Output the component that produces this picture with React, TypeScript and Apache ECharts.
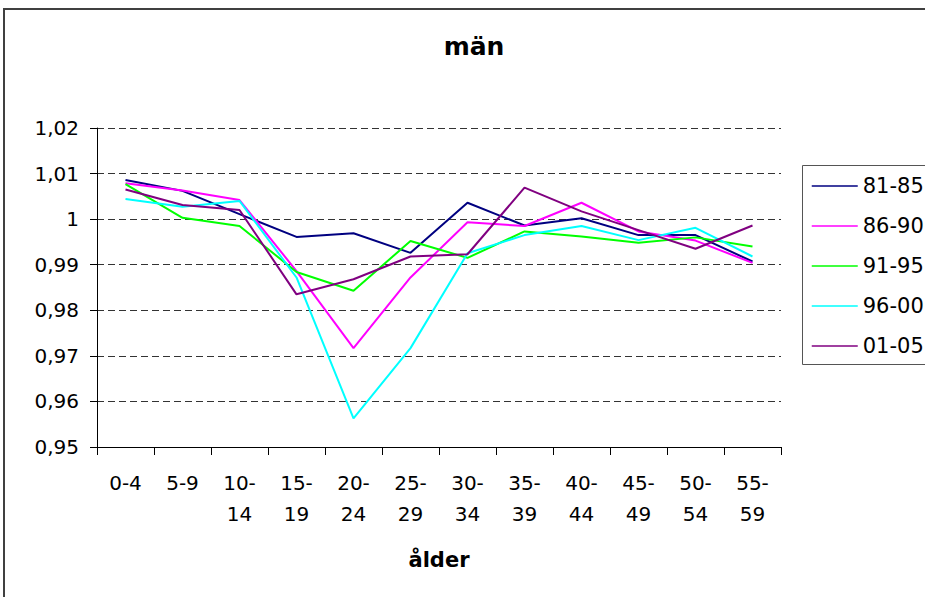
import React, { useEffect, useRef } from "react";
import * as echarts from "echarts";

const categories = ["0-4", "5-9", "10-14", "15-19", "20-24", "25-29", "30-34", "35-39", "40-44", "45-49", "50-54", "55-59"];
const seriesNames = ["81-85", "86-90", "91-95", "96-00", "01-05"];
const s8185 = [1.0086, 1.0062, 1.0011, 0.9961, 0.9969, 0.9926, 1.0036, 0.9986, 1.0002, 0.9965, 0.9965, 0.9907];
const s8690 = [1.0079, 1.0063, 1.0042, 0.9886, 0.9717, 0.9872, 0.9993, 0.9985, 1.0036, 0.9973, 0.9953, 0.9904];
const s9195 = [1.0077, 1.0003, 0.9985, 0.9884, 0.9843, 0.9952, 0.9915, 0.9973, 0.9962, 0.9948, 0.996, 0.994];
const s9600 = [1.0044, 1.0027, 1.004, 0.9872, 0.9563, 0.9717, 0.9925, 0.9965, 0.9985, 0.9954, 0.9981, 0.9918];
const s0105 = [1.0065, 1.0031, 1.002, 0.9835, 0.9868, 0.9918, 0.9923, 1.0069, 1.0017, 0.9976, 0.9935, 0.9986];
const seriesValues = [s8185, s8690, s9195, s9600, s0105];
const colors = ["#000080", "#FF00FF", "#00FF00", "#00FFFF", "#800080"];
const titleText = "män";
const xAxisTitle = "ålder";
const yMin = 0.95;
const yMax = 1.02;
const yStep = 0.01;

const FONT = "DejaVu Sans";

export default function App() {
  const ref = useRef<HTMLDivElement>(null);
  useEffect(() => {
    if (!ref.current) return;
    const chart = echarts.init(ref.current, undefined, { renderer: "svg" });
    chart.setOption({
      animation: false,
      backgroundColor: "#ffffff",
      title: {
        text: titleText,
        left: 474,
        top: 34,
        textAlign: "center",
        padding: 0,
        textStyle: { fontFamily: FONT, fontWeight: "bold", fontSize: 25, color: "#000" },
      },
      graphic: [
        {
          type: "rect",
          shape: { x: 4, y: 9, width: 1000, height: 700 },
          style: { fill: "none", stroke: "#404040", lineWidth: 2 },
          silent: true,
        },
        {
          type: "rect",
          shape: { x: 802.5, y: 165.5, width: 200, height: 199 },
          style: { fill: "none", stroke: "#555555", lineWidth: 1 },
          silent: true,
        },
      ],
      legend: {
        orient: "vertical",
        left: 811,
        top: 175,
        padding: 0,
        itemWidth: 46,
        itemHeight: 14,
        itemGap: 18,
        data: seriesNames,
        itemStyle: { opacity: 0 },
        lineStyle: { width: 1.5 },
        textStyle: { fontFamily: FONT, fontSize: 21, color: "#000", lineHeight: 22 },
      },
      grid: { left: 97, top: 128, width: 684, height: 319, containLabel: false },
      xAxis: {
        type: "category",
        data: categories,
        boundaryGap: true,
        name: xAxisTitle,
        nameLocation: "middle",
        nameGap: 113,
        nameTextStyle: { fontFamily: FONT, fontWeight: "bold", fontSize: 21, color: "#000", verticalAlign: "middle" },
        axisLine: { show: true, lineStyle: { color: "#000", width: 1 } },
        axisTick: { show: true, length: 8, alignWithLabel: false, lineStyle: { color: "#000" } },
        axisLabel: {
          interval: 0,
          margin: 20,
          fontFamily: FONT,
          fontSize: 20,
          lineHeight: 31.5,
          color: "#000",
          formatter: (v: string) => (v.length > 3 ? v.replace("-", "-\n") : v),
        },
        splitLine: { show: false },
      },
      yAxis: {
        type: "value",
        min: yMin,
        max: yMax,
        interval: yStep,
        axisLine: { show: true, lineStyle: { color: "#000", width: 1 } },
        axisTick: { show: true, length: 7, lineStyle: { color: "#000" } },
        axisLabel: {
          margin: 18,
          fontFamily: FONT,
          fontSize: 20,
          color: "#000",
          formatter: (v: number) => String(Number(v.toFixed(2))).replace(".", ","),
        },
        splitLine: { show: true, lineStyle: { color: "#333", width: 1, type: [7, 4] } },
      },
      series: seriesNames.map((name, i) => ({
        name,
        type: "line",
        data: seriesValues[i],
        symbol: "none",
        showSymbol: false,
        lineStyle: { color: colors[i], width: 2 },
        itemStyle: { color: colors[i] },
        z: 2 + i,
      })),
    });
    return () => chart.dispose();
  }, []);
  return <div ref={ref} style={{ position: "fixed", left: 0, top: 0, width: 925, height: 597 }} />;
}
